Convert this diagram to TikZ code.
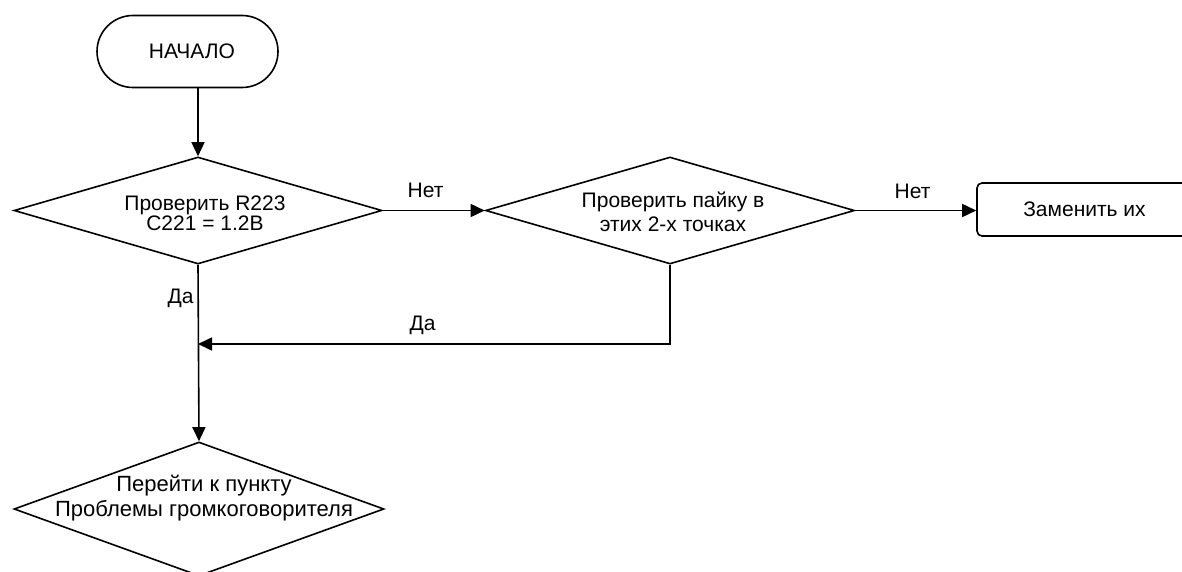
\documentclass[tikz,border=0pt]{standalone}
\usepackage{fontspec}
\setmainfont{Liberation Sans}
\usetikzlibrary{arrows.meta,shapes.geometric,shapes.misc}
\tikzset{
  ln/.style={line width=1.6pt},
  arr/.style={ln, -{Triangle[length=14pt,width=13pt]}},
  dec/.style={diamond, draw, line width=1.6pt, inner sep=0pt, minimum width=#1, minimum height=107pt},
  txt/.style={font=\fontsize{21}{24}\selectfont, align=center, inner sep=0pt},
  lbl/.style={font=\fontsize{21}{24}\selectfont, inner sep=0pt}
}
\begin{document}
\begin{tikzpicture}[x=1pt,y=-1pt]
\clip (0,0) rectangle (1182,572);
\fill[white] (0,0) rectangle (1182,572);
% start
\node[rounded rectangle, draw, line width=1.6pt, minimum width=181pt, minimum height=72pt, inner sep=0pt] (start) at (187.5,51.5) {};
\node[txt] (startt) at (192,51.5) {НАЧАЛО};
% decisions
\node[dec=368pt] (d1) at (198,210.5) {};
\node[txt, font=\fontsize{21}{19}\selectfont] (d1t) at (205,213) {Проверить R223\\ C221 = 1.2В};
\node[dec=369pt] (d2) at (670,210.5) {};
\node[txt] (d2t) at (673,212) {Проверить пайку в\\этих 2-х точках};
\node[dec=370pt, minimum height=134pt] (d3) at (199,509) {};
\node[txt, font=\fontsize{22}{25}\selectfont] (d3t) at (204,498) {Перейти к пункту\\Проблемы громкоговорителя};
% action
\node[rectangle, rounded corners=5pt, draw, line width=1.6pt, minimum width=216pt, minimum height=53pt, inner sep=0pt] (act) at (1085,209.5) {};
\node[txt] (actt) at (1084.5,209) {Заменить их};
% connectors
\coordinate (j) at (d1.south |- 0,344);
\draw[arr] (start.south -| d1.north) -- (d1.north);
\draw[arr] (d1.east) -- (d2.west);
\draw[arr] (d2.east) -- (d2.east -| act.west);
\draw[arr] (d2.south) |- (j);
\draw[arr] (d1.south) -- (d3.north);
% labels
\node[lbl] (l1) at (425.5,190) {Нет};
\node[lbl] (l2) at (912.5,191) {Нет};
\node[lbl] (l3) at (180.5,298) {Да};
\node[lbl] (l4) at (422.5,325) {Да};
\end{tikzpicture}
\end{document}
